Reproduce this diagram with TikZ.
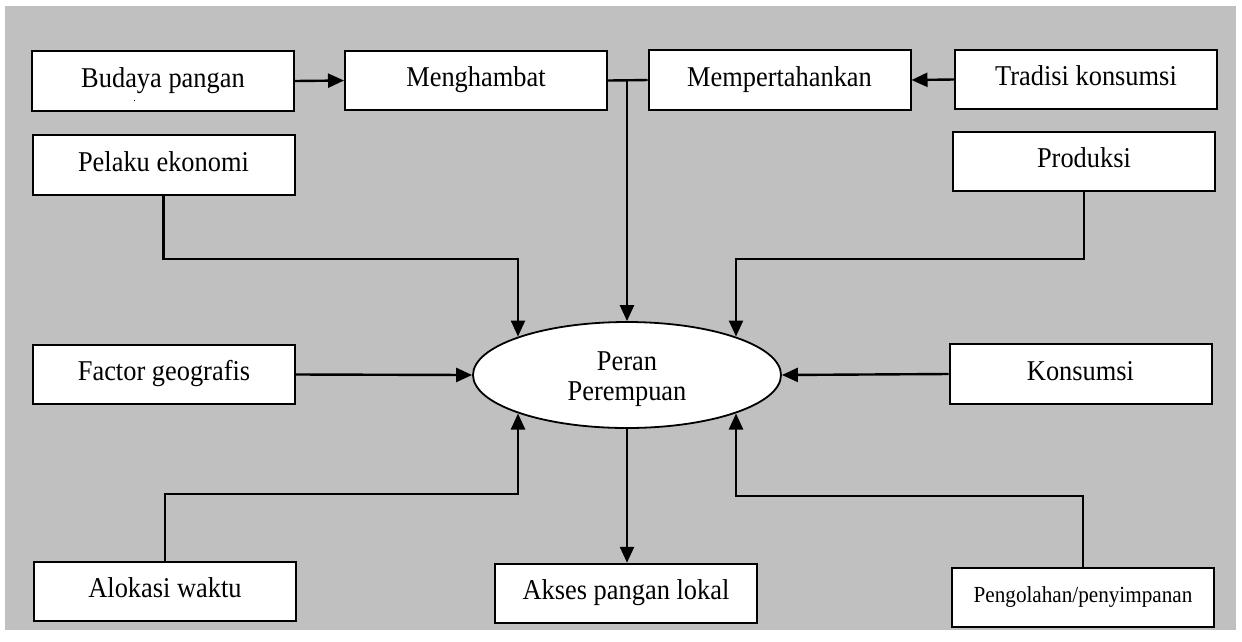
\documentclass[tikz,border=0pt]{standalone}
\usepackage{fontspec}
\setmainfont{Liberation Serif}
\newfontfamily\narrowserif[FakeStretch=0.92]{Liberation Serif}
\usetikzlibrary{arrows.meta,shapes.geometric}
\definecolor{panel}{HTML}{C0C0C0}
\begin{document}
\begin{tikzpicture}[x=1pt,y=-1pt,
  box/.style={draw=black,line width=2pt,fill=white,minimum width=262pt,minimum height=59.5pt,
    inner sep=0pt,font=\narrowserif\fontsize{28.7}{31}\selectfont,text height=19pt,text depth=7pt},
  smallbox/.style={box,font=\narrowserif\fontsize{23}{26}\selectfont,text height=15pt,text depth=5pt},
  link/.style={line width=2.4pt},
  arr/.style={link,-{Triangle[length=16pt,width=14pt]}},
]
\useasboundingbox (0,0) rectangle (1242,641);
\fill[white] (0,0) rectangle (1242,641);
\fill[panel] (5,6) rectangle (1236,630);

% top row
\node[box] (bud)  at (163,81)     {Budaya pangan};
\node[box] (meng) at (476,80.5)   {Menghambat};
\node[box] (mem)  at (779.5,80)   {Mempertahankan};
\node[box] (trad) at (1086,79.5)  {Tradisi konsumsi};
\fill (133.5,99.5) rectangle (135,101);

% second row
\node[box] (pel)  at (163.5,165)  {Pelaku ekonomi};
\node[box] (prod) at (1084,161.5) {Produksi};

% middle row
\node[box] (fac)  at (164,374.5)  {Factor geografis};
\node[box] (kon)  at (1080.5,374) {Konsumsi};
\node[draw=black,line width=1.8pt,fill=white,shape=ellipse,minimum width=308pt,minimum height=106pt,inner sep=0pt] (ell) at (627,375) {};
\node[font=\narrowserif\fontsize{28.7}{29.5}\selectfont,align=center,inner sep=0pt] (ellt) at (627,379) {Peran\\Perempuan};

% bottom row
\node[box] (alo)   at (165,591.5)  {Alokasi waktu};
\node[box] (akses) at (626,593.5)  {Akses pangan lokal};
\node[smallbox] (peng) at (1083,597.5) {Pengolahan/penyimpanan};

% points where the bent connectors meet the ellipse
\coordinate (e1) at (518,336.5);
\coordinate (e2) at (736,336.5);
\coordinate (e3) at (518,413.5);
\coordinate (e4) at (736,413.5);
\coordinate (j)  at (627,80.3);

% connectors
\draw[arr] (bud.east) -- (meng.west);
\draw[arr] (trad.west) -- (mem.east);
\draw[link] (meng.east) -- (j) -- (mem.west);
\draw[arr] (j) -- (ell.north);

\draw[arr] (pel.south) -- ++(0,63) -| (e1);
\draw[arr] (prod.south) -- ++(0,67) -| (e2);
\draw[arr] (fac.east) -- (ell.west);
\draw[arr] (kon.west) -- (ell.east);
\draw[arr] (alo.north) -- ++(0,-67) -| (e3);
\draw[arr] (peng.north) -- ++(0,-71) -| (e4);
\draw[arr] (ell.south) -- (akses.north -| ell.south);
\end{tikzpicture}
\end{document}
